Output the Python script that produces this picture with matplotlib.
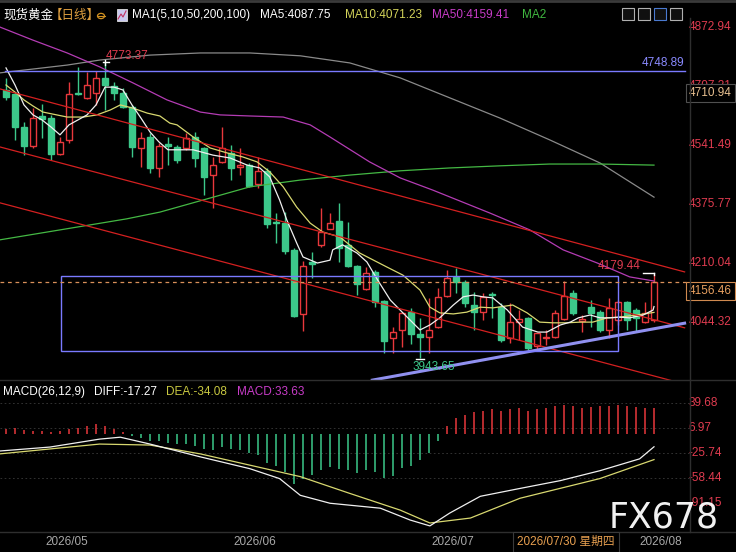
import matplotlib.pyplot as plt
from matplotlib.patches import Rectangle, Circle

plt.rcParams['font.family'] = ['Liberation Sans', 'Noto Sans CJK SC', 'DejaVu Sans']

W, H = 736, 552

# daily candles (open, high, low, close)
opens = [4696, 4684, 4592, 4538, 4623, 4617, 4516, 4556, 4687, 4673, 4687, 4730, 4707, 4687, 4648,
         4533, 4564, 4477, 4544, 4536, 4533, 4564, 4533, 4457, 4494, 4519, 4480, 4485, 4432, 4468,
         4325, 4322, 4247, 4066, 4213, 4260, 4306, 4328, 4260, 4201, 4137, 4185, 4103, 3999, 4022,
         4072, 4010, 4002, 4030, 4117, 4171, 4157, 4092, 4072, 4123, 4086, 3999, 4044, 4055, 3977,
         3999, 4002, 4052, 4125, 4047, 4086, 4072, 4022, 4050, 4100, 4078, 4044, 4050]
highs = [4730, 4690, 4606, 4645, 4657, 4626, 4564, 4718, 4760, 4746, 4749, 4773.37, 4718, 4701, 4654,
         4578, 4575, 4547, 4564, 4541, 4575, 4578, 4536, 4508, 4592, 4541, 4533, 4491, 4508, 4477,
         4350, 4353, 4252, 4215, 4241, 4364, 4350, 4378, 4325, 4204, 4199, 4190, 4106, 4030, 4072,
         4083, 4055, 4111, 4139, 4190, 4196, 4162, 4128, 4125, 4128, 4097, 4097, 4078, 4058, 4013,
         4022, 4078, 4159, 4134, 4064, 4106, 4078, 4111, 4106, 4103, 4083, 4100, 4179.44]
lows = [4668, 4556, 4513, 4533, 4561, 4499, 4513, 4547, 4682, 4670, 4654, 4640, 4668, 4645, 4508,
        4480, 4463, 4452, 4485, 4491, 4527, 4480, 4401, 4364, 4491, 4443, 4457, 4423, 4420, 4308,
        4266, 4235, 4058, 4019, 4168, 4255, 4306, 4213, 4199, 4120, 4134, 4086, 3957, 3957, 3974,
        3982, 3943.65, 3957, 4027, 4114, 4125, 4086, 4022, 4050, 4055, 3988, 3985, 3994, 3966, 3966,
        3980, 3999, 4050, 4064, 4016, 4030, 4016, 3999, 4035, 4022, 4019, 4041, 4044]
closes = [4676, 4592, 4538, 4617, 4614, 4516, 4550, 4684, 4684, 4710, 4730, 4710, 4687, 4648, 4536,
          4561, 4477, 4538, 4538, 4499, 4561, 4505, 4451, 4485, 4533, 4477, 4485, 4426, 4468, 4320,
          4322, 4244, 4061, 4201, 4207, 4297, 4322, 4252, 4201, 4151, 4182, 4100, 3991, 4016, 4069,
          4010, 4002, 4022, 4114, 4168, 4157, 4097, 4072, 4114, 4120, 3994, 4044, 4052, 3971, 4013,
          4002, 4069, 4117, 4069, 4052, 4069, 4022, 4083, 4100, 4050, 4055, 4069, 4156.46]

# moving averages (candle index, price)
ma5_x = [0, 1, 2, 3, 4, 5, 6, 7, 8, 9, 10, 11, 12, 13, 14, 15, 16, 17, 18, 19, 20.8, 23, 24.9, 26.8,
         28.2, 29.3, 30.4, 31.2, 32.3, 33, 34.6, 36, 36.3, 37.4, 39, 40.1, 41.3, 42.7, 44.1, 46,
         47.1, 48.2, 49.7, 50.8, 51.9, 53, 54.1, 55.7, 57.4, 59.1, 60.1, 61.6, 62.7, 63.6, 64.9,
         66, 67.1, 68.2, 69.3, 70.8, 71.9, 72]
ma5_y = [4758, 4710, 4654, 4626, 4612, 4592, 4570, 4598, 4612, 4626, 4654, 4704, 4704, 4696, 4654,
         4617, 4578, 4550, 4528, 4528, 4528, 4513, 4505, 4485, 4477, 4452, 4387, 4331, 4266, 4227,
         4210, 4218, 4247, 4261, 4238, 4213, 4162, 4106, 4070, 4022, 4036, 4056, 4092, 4115, 4120,
         4115, 4112, 4078, 4030, 4016, 4016, 4036, 4044, 4056, 4064, 4056, 4056, 4058, 4056, 4064,
         4078, 4087.75]
ma10_x = [0, 1, 2, 3, 4.1, 6.8, 8.6, 10.1, 11.6, 12.7, 14.1, 15.7, 17.1, 18.2, 19, 20.8, 22.7, 24.6,
          26.3, 27.9, 29.3, 30.8, 32.3, 33.8, 35.2, 37.1, 39.3, 42.3, 44.1, 46, 47.1, 48.2, 49.7,
          51.2, 52.7, 54.1, 56.3, 57.9, 59.3, 60.8, 62.3, 63.8, 65.2, 66.8, 68.2, 70.1, 72]
ma10_y = [4710, 4690, 4668, 4651, 4634, 4620, 4620, 4626, 4640, 4654, 4645, 4631, 4623, 4603, 4598,
          4564, 4533, 4519, 4508, 4494, 4466, 4424, 4367, 4322, 4297, 4283, 4238, 4199, 4176, 4134,
          4086, 4070, 4067, 4072, 4086, 4084, 4092, 4070, 4044, 4042, 4042, 4044, 4044, 4056, 4058,
          4064, 4071.23]
ma50_x = [-0.7, 3, 6.8, 10.4, 14.1, 17.9, 21.6, 23.8, 27.1, 30.8, 33.8, 36, 40.4, 43.8, 47.4, 53.8,
          58.2, 61.9, 65.7, 69.3, 72]
ma50_y = [4873, 4836, 4800, 4761, 4716, 4668, 4634, 4626, 4623, 4620, 4598, 4564, 4494, 4449, 4415,
          4350, 4303, 4247, 4210, 4171, 4159.41]
ma200_x = [-0.7, 6, 13.4, 17.1, 21.9, 27.1, 32.7, 38.2, 43.8, 49.3, 54.9, 60.4, 66, 72]
ma200_y = [4275, 4303, 4334, 4353, 4387, 4424, 4443, 4457, 4469, 4477, 4483, 4488, 4488, 4485]
ma100_x = [-0.7, 6.8, 10.4, 16, 21.6, 27.1, 32.7, 38.2, 43.8, 49.3, 54.9, 60.4, 66, 72]
ma100_y = [4744, 4766, 4780, 4794, 4800, 4800, 4792, 4772, 4730, 4674, 4617, 4556, 4491, 4395]

# drawn objects: channels (x0, p0, x1, p1), box, support
channels = [(-0.67, 4699, 75.4, 4185), (-0.67, 4536, 75.4, 4028), (-0.67, 4379, 75.4, 3870)]
support = (40.7, 3881, 75.4, 4041)
box = (6.1, 3963, 68.0, 4173.5)
resistance = 4748.89
last_price = 4156.46
right_ticks = [4872.94, 4707.21, 4541.49, 4375.77, 4210.04, 4044.32]

# MACD
macd_hist = [6, 8, 5, 3, 4, 2, 3, 6, 8, 10, 12, 10, 6, 2, -3, -6, -10, -10, -12, -14,
             -13, -16, -20, -22, -18, -20, -22, -25, -28, -38, -42, -50, -66, -60, -54, -48, -44,
             -46, -48, -52, -48, -50, -58, -55, -45, -42, -35, -25, -10, 10, 20, 25, 28, 30, 32,
             30, 32, 34, 30, 32, 34, 36, 38, 36, 34, 35, 36, 36, 37, 36, 35, 34, 33.63]
diff_x = [-0.7, 4.9, 10.4, 12.7, 16, 21.6, 27.1, 30.4, 32.7, 36, 41.6, 44.9, 47.1, 49.3, 52.7,
          57.1, 61.6, 66, 70.4, 72]
diff_y = [-22.8, -17.6, -7.2, -4.7, -13.7, -30.5, -46.0, -59.0, -80.9, -91.3, -97.8, -113.3,
          -121.0, -104.2, -82.2, -71.9, -61.6, -48.6, -33.1, -17.27]
dea_x = [-0.7, 10.4, 16, 21.6, 32.7, 38.2, 43.8, 47.1, 51.6, 57.1, 66, 72]
dea_y = [-26.6, -13.7, -15.0, -26.6, -56.4, -78.4, -100.3, -117.2, -110.7, -84.8, -58.9, -34.08]
macd_ticks = [39.68, 6.97, -25.74, -58.44, -91.15]

date_labels = ["2026/05", "2026/06", "2026/07", "2026/08"]
date_pos = [6.8, 27.7, 49.6, 72.8]

BG = "#000000"
UP = "#e8383c"
DOWN = "#3cc88a"
AXIS_TXT = "#e03c50"


def fx(x):
    return x / W


def fy(y):
    return 1 - y / H


fig = plt.figure(figsize=(W / 100, H / 100), dpi=100, facecolor=BG)

ax = fig.add_axes([0, fy(380), fx(690), 362 / H])
ax2 = fig.add_axes([0, fy(532), fx(690), 152 / H])
for a in (ax, ax2):
    a.set_facecolor(BG)
    a.set_xlim(-6 / 9, 684 / 9)
    a.set_xticks([])
    a.set_yticks([])
    for s in a.spines.values():
        s.set_visible(False)

ax.set_ylim(3881.4, 4898.2)
ax2.set_ylim(-129.0, 70.3)

# candles
for i in range(len(opens)):
    o, h, l, c = opens[i], highs[i], lows[i], closes[i]
    up = c >= o
    col = UP if up else DOWN
    ax.vlines(i, l, h, color=col, lw=1.0, zorder=2)
    body = max(abs(c - o), 2.0)
    ax.add_patch(Rectangle((i - 0.37, min(o, c)), 0.74, body,
                           facecolor=BG if up else DOWN, edgecolor=col, lw=1.0, zorder=3))

# moving averages
ax.plot(ma100_x, ma100_y, color="#8a8a8a", lw=0.9, zorder=4)
ax.plot(ma200_x, ma200_y, color="#44b844", lw=0.9, zorder=4)
ax.plot(ma50_x, ma50_y, color="#b43cb4", lw=0.9, zorder=4)
ax.plot(ma10_x, ma10_y, color="#d8d870", lw=0.9, zorder=4)
ax.plot(ma5_x, ma5_y, color="#f0f0f0", lw=0.9, zorder=4)

# drawings
for x0, p0, x1, p1 in channels:
    ax.plot([x0, x1], [p0, p1], color="#d42020", lw=0.9, zorder=5)
ax.plot([support[0], support[2]], [support[1], support[3]], color="#9090f0", lw=2.2, zorder=5)
ax.add_patch(Rectangle((box[0], box[1]), box[2] - box[0], box[3] - box[1],
                       fill=False, edgecolor="#7a7aff", lw=1.0, zorder=5))
ax.plot([-0.1, 75.4], [resistance, resistance], color="#7a7aff", lw=1.0, zorder=5)
ax.text(75.4, resistance + 6, f"{resistance:.2f}", color="#8a8aff", fontsize=8.5,
        ha="right", va="bottom", zorder=6)
ax.plot([-0.67, 75.7], [last_price, last_price], color="#d9905a", lw=0.9,
        ls=(0, (3, 3)), zorder=5)

# high / low marks
ax.plot([10.8, 11.4], [4773.37, 4773.37], color="white", lw=1.0, zorder=6)
ax.plot([11, 11], [4766, 4781], color="white", lw=1.0, zorder=6)
ax.text(11.1, 4775, "4773.37", color="#e03c50", fontsize=8.5, ha="left", va="bottom", zorder=6)
ax.plot([45.6, 46.4], [3940, 3940], color="white", lw=1.0, zorder=6)
ax.text(47.5, 3935, "3943.65", color="#3cc88a", fontsize=8.5, ha="center", va="top", zorder=6)
ax.plot([70.8, 72], [4181, 4181], color="white", lw=1.0, zorder=6)
ax.plot([72, 72], [4181, 4175], color="white", lw=1.0, zorder=6)
ax.text(70.5, 4186, "4179.44", color="#e03c50", fontsize=8.5, ha="right", va="bottom", zorder=6)

# right price axis
for p in right_ticks:
    ax.text(75.8, p, f"{p:.2f}", color=AXIS_TXT, fontsize=8.5, ha="left", va="center",
            clip_on=False)
ax.text(75.9, 4687, "4710.94", color="#e8c090", fontsize=8.5, ha="left",
        va="center", clip_on=False, zorder=8,
        bbox=dict(boxstyle="square,pad=0.25", fc=BG, ec="#505050", lw=0.8))
ax.text(75.9, 4131, f"{last_price:.2f}", color="#e8a060", fontsize=8.5, ha="left",
        va="center", clip_on=False, zorder=8,
        bbox=dict(boxstyle="square,pad=0.25", fc=BG, ec="#d08a50", lw=0.8))

# MACD panel
for v in macd_ticks[:-1]:
    ax2.axhline(v, color="#3a3a3a", lw=0.6, ls=(0, (2, 3)), zorder=1)
for i, v in enumerate(macd_hist):
    ax2.vlines(i, 0, v, color=UP if v >= 0 else DOWN, lw=1.1, zorder=2)
ax2.plot(dea_x, dea_y, color="#d8d870", lw=0.9, zorder=3)
ax2.plot(diff_x, diff_y, color="#f0f0f0", lw=0.9, zorder=3)
for v in macd_ticks:
    ax2.text(75.8, v, f"{v:.2f}", color=AXIS_TXT, fontsize=8.5, ha="left", va="center",
             clip_on=False)

# frame lines
fig.add_artist(plt.Line2D([fx(690), fx(690)], [fy(18), fy(532)], color="#2e2e2e", lw=1))
fig.add_artist(plt.Line2D([0, 1], [fy(380), fy(380)], color="#2e2e2e", lw=1))
fig.add_artist(plt.Line2D([0, 1], [fy(532), fy(532)], color="#2e2e2e", lw=1))
fig.add_artist(plt.Line2D([0, 1], [fy(1), fy(1)], color="#3a3a3a", lw=2))

# header
hy = fy(15)
fig.text(fx(3), hy, "现货黄金", color="white", fontsize=9, va="center",
         family=["Noto Sans CJK SC"])
fig.text(fx(50), hy, "【日线】", color="#e0a040", fontsize=9, va="center",
         family=["Noto Sans CJK SC"])
fig.add_artist(Circle((fx(101), fy(16)), 3.5 / W, transform=fig.transFigure,
                      fill=False, edgecolor="#d09020", lw=0.9))
fig.add_artist(plt.Line2D([fx(97.5), fx(104.5)], [fy(16), fy(16)], color="#d09020", lw=0.8))
fig.add_artist(Rectangle((fx(117), fy(21)), 10 / W, 12 / H, transform=fig.transFigure,
                         facecolor="#c8c8f0", edgecolor="#e0e0e0", lw=0.6))
fig.add_artist(plt.Line2D([fx(118), fx(121), fx(123), fx(126)],
                          [fy(19), fy(14), fy(17), fy(11)], color="#c03060", lw=0.8))
fig.text(fx(132), hy, "MA1(5,10,50,200,100)", color="white", fontsize=8.5, va="center")
fig.text(fx(260), hy, "MA5:4087.75", color="white", fontsize=8.5, va="center")
fig.text(fx(345), hy, "MA10:4071.23", color="#d4d45a", fontsize=8.5, va="center")
fig.text(fx(432), hy, "MA50:4159.41", color="#c83cc8", fontsize=8.5, va="center")
fig.text(fx(522), hy, "MA2", color="#40b840", fontsize=8.5, va="center")
for x0, ec in [(622, "#b0b0b0"), (638, "#b0b0b0"), (654, "#4a7ad0"), (670, "#b0b0b0")]:
    fig.add_artist(Rectangle((fx(x0), fy(20)), 12 / W, 12 / H, transform=fig.transFigure,
                             facecolor="#101010", edgecolor=ec, lw=0.8))

# MACD header
my = fy(392)
fig.text(fx(3), my, "MACD(26,12,9)", color="white", fontsize=8.5, va="center")
fig.text(fx(94), my, "DIFF:-17.27", color="white", fontsize=8.5, va="center")
fig.text(fx(166), my, "DEA:-34.08", color="#c8c840", fontsize=8.5, va="center")
fig.text(fx(237), my, "MACD:33.63", color="#c83cc8", fontsize=8.5, va="center")

# dates
for lab, pos in zip(date_labels, date_pos):
    fig.text(fx(6 + 9 * pos), fy(542), lab, color="#a8a8a8", fontsize=8.5, ha="center",
             va="center")
fig.text(fx(566), fy(542), "2026/07/30 星期四", color="#e8a050", fontsize=8.5, ha="center",
         va="center", family=["Liberation Sans", "Noto Sans CJK SC"],
         bbox=dict(boxstyle="square,pad=0.35", fc=BG, ec="#3a3a3a", lw=0.8))

# watermark
fig.text(fx(664), fy(518), "FX678", color="white", fontsize=25, ha="center", va="center",
         family=["DejaVu Sans"], alpha=0.95)

fig.savefig("out.png", dpi=100, facecolor=BG)
